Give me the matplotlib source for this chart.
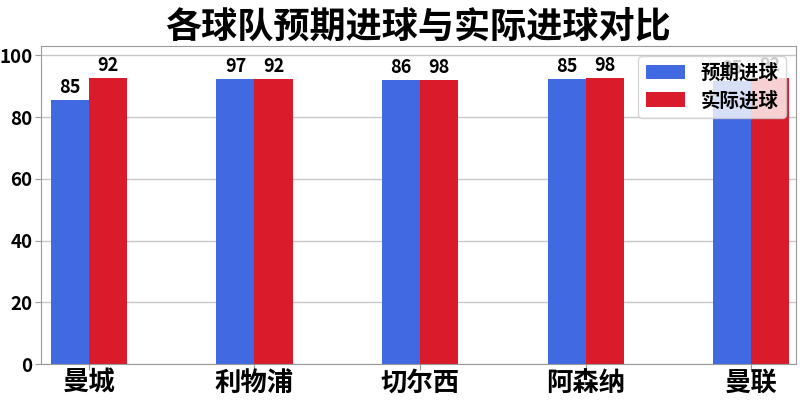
import matplotlib
matplotlib.use('Agg')
import matplotlib.pyplot as plt
import numpy as np

plt.rcParams['font.family'] = ['Noto Sans CJK SC', 'DejaVu Sans']

teams = ['曼城', '利物浦', '切尔西', '阿森纳', '曼联']
# bar heights as drawn in the picture
expected_bar = [85.5, 92.3, 92.1, 92.3, 91.8]
actual_bar = [92.6, 92.3, 92.1, 92.6, 92.6]
# numbers printed above the bars
expected_text = ['85', '97', '86', '85', '85']
actual_text = ['92', '92', '98', '98', '92']

BLUE = '#4169E1'
RED = '#DA1B2B'
WIDTH = 0.23

x = np.arange(len(teams))

fig, ax = plt.subplots(figsize=(8, 4), dpi=100)
fig.subplots_adjust(left=0.051, right=0.995, top=0.885, bottom=0.09)

b1 = ax.bar(x - WIDTH / 2, expected_bar, WIDTH, color=BLUE, label='预期进球', zorder=2)
b2 = ax.bar(x + WIDTH / 2, actual_bar, WIDTH, color=RED, label='实际进球', zorder=2)

ax.bar_label(b1, labels=expected_text, padding=2, fontsize=13, fontweight='bold')
ax.bar_label(b2, labels=actual_text, padding=2, fontsize=13, fontweight='bold')

ax.set_title('各球队预期进球与实际进球对比', fontsize=26, fontweight='bold', pad=3)
ax.set_xticks(x)
ax.set_xticklabels(teams, fontsize=19, fontweight='bold')
ax.set_yticks([0, 20, 40, 60, 80, 100])
ax.set_yticklabels(['0', '20', '40', '60', '80', '100'], fontsize=13.5, fontweight='bold')
ax.set_xlim(-0.29, 4.27)
ax.set_ylim(0, 103)

ax.set_axisbelow(True)
ax.yaxis.grid(True, color='#c8c8c8', linewidth=1)
for s in ax.spines.values():
    s.set_color('#999999')
ax.tick_params(axis='x', length=4, pad=0, color='#999999')
ax.tick_params(axis='y', length=4, pad=2, color='#999999')

leg = ax.legend(loc='upper right', prop={'weight': 'bold', 'size': 14},
                handlelength=2.0, handleheight=0.75, borderaxespad=0.5,
                borderpad=0.4, labelspacing=0.4)
leg.get_frame().set_alpha(0.8)

plt.savefig('out.png', dpi=100, facecolor='white')
